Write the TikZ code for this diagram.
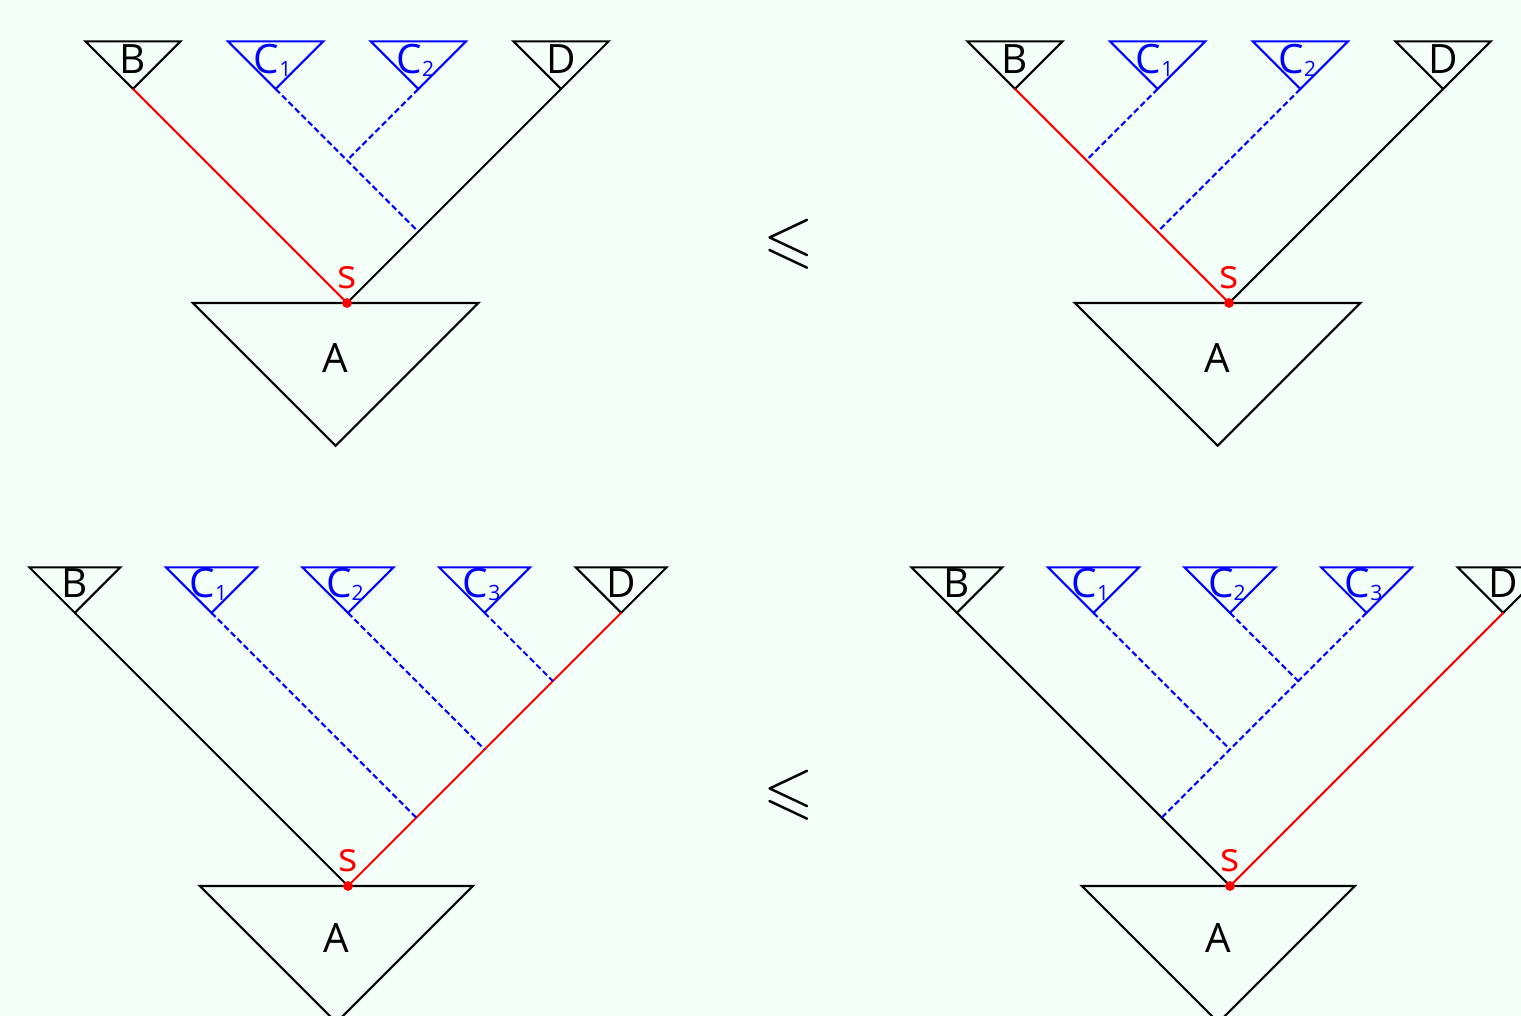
\documentclass[tikz,border=0pt]{standalone}
\usepackage{fontspec}
\setmainfont{Open Sans}
\usepackage{amssymb}
\usetikzlibrary{calc}
\definecolor{MintBg}{RGB}{245, 255, 250}
\newcommand{\leafsub}[1]{\raisebox{-0.9pt}{\fontsize{6}{7}\selectfont #1}}

\begin{document}
\begin{tikzpicture}[x=0.01cm, y=-0.01cm, line width=0.6pt,
    every node/.style={font=\fontsize{11.5}{14}\selectfont, inner sep=0pt},
    leaflabel/.style={anchor=base, yshift=0.155cm},
    rootlabel/.style={anchor=base},
    relsign/.style={font=\fontsize{18.5}{22}\selectfont},
    spine/.style={red},
    clade/.style={blue},
    cladeline/.style={blue, dash pattern=on 1.7pt off 0.9pt}]
  \useasboundingbox (0,0) rectangle (1521,1016);
  \fill[MintBg] (0,0) rectangle (1521,1016);
  \clip (0,0) rectangle (1521,1016);

  % Top left
  \begin{scope}[shift={(347,303)}, x=0.713cm, y=-0.713cm]
    \coordinate (s) at (0,0);
    \coordinate (B) at (-3,-3);
    \coordinate (C1) at (-1,-3);
    \coordinate (C2) at (1,-3);
    \coordinate (D) at (3,-3);
    \coordinate (j12) at (0,-2);
    \coordinate (jD) at (1,-1);
    \coordinate (A) at (-0.16,0);
    \draw (A) ++(-2,0) -- ++(4,0) -- ++(-2,2) -- cycle;
    \draw (B) -- ++(-2/3,-2/3) -- ++(4/3,0) -- cycle;
    \draw[clade] (C1) -- ++(-2/3,-2/3) -- ++(4/3,0) -- cycle;
    \draw[clade] (C2) -- ++(-2/3,-2/3) -- ++(4/3,0) -- cycle;
    \draw (D) -- ++(-2/3,-2/3) -- ++(4/3,0) -- cycle;
    \draw[spine] (s) -- (B);
    \draw (s) -- (D);
    \draw[cladeline] (C1) -- (j12) -- (jD);
    \draw[cladeline] (C2) -- (j12);
    \node[leaflabel] (Bl) at (B) {B};
    \node[leaflabel, blue, xshift=-0.03cm] (C1l) at (C1) {C\leafsub{1}};
    \node[leaflabel, blue, xshift=-0.03cm] (C2l) at (C2) {C\leafsub{2}};
    \node[leaflabel] (Dl) at (D) {D};
    \node[rootlabel] (Al) at ($(A)+(0,0.97)$) {A};
    \fill[red] (s) circle[radius=1.4pt];
    \node[rootlabel, red, yshift=0.14cm] (sl) at (s) {s};
  \end{scope}

  % Top right
  \begin{scope}[shift={(1229,303)}, x=0.713cm, y=-0.713cm]
    \coordinate (s) at (0,0);
    \coordinate (B) at (-3,-3);
    \coordinate (C1) at (-1,-3);
    \coordinate (C2) at (1,-3);
    \coordinate (D) at (3,-3);
    \coordinate (jB1) at (-2,-2);
    \coordinate (jB2) at (-1,-1);
    \coordinate (A) at (-0.16,0);
    \draw (A) ++(-2,0) -- ++(4,0) -- ++(-2,2) -- cycle;
    \draw (B) -- ++(-2/3,-2/3) -- ++(4/3,0) -- cycle;
    \draw[clade] (C1) -- ++(-2/3,-2/3) -- ++(4/3,0) -- cycle;
    \draw[clade] (C2) -- ++(-2/3,-2/3) -- ++(4/3,0) -- cycle;
    \draw (D) -- ++(-2/3,-2/3) -- ++(4/3,0) -- cycle;
    \draw[spine] (s) -- (B);
    \draw (s) -- (D);
    \draw[cladeline] (C1) -- (jB1);
    \draw[cladeline] (C2) -- (jB2);
    \node[leaflabel] (Bl) at (B) {B};
    \node[leaflabel, blue, xshift=-0.03cm] (C1l) at (C1) {C\leafsub{1}};
    \node[leaflabel, blue, xshift=-0.03cm] (C2l) at (C2) {C\leafsub{2}};
    \node[leaflabel] (Dl) at (D) {D};
    \node[rootlabel] (Al) at ($(A)+(0,0.97)$) {A};
    \fill[red] (s) circle[radius=1.4pt];
    \node[rootlabel, red, yshift=0.14cm] (sl) at (s) {s};
  \end{scope}

  \node[relsign] (leqtop) at (788.5,244) {$\leqslant$};

  % Bottom left
  \begin{scope}[shift={(348,886)}, x=0.6825cm, y=-0.6825cm]
    \coordinate (s) at (0,0);
    \coordinate (B) at (-4,-4);
    \coordinate (C1) at (-2,-4);
    \coordinate (C2) at (0,-4);
    \coordinate (C3) at (2,-4);
    \coordinate (D) at (4,-4);
    \coordinate (jD1) at (1,-1);
    \coordinate (jD2) at (2,-2);
    \coordinate (jD3) at (3,-3);
    \coordinate (A) at (-0.17,0);
    \draw (A) ++(-2,0) -- ++(4,0) -- ++(-2,2) -- cycle;
    \draw (B) -- ++(-2/3,-2/3) -- ++(4/3,0) -- cycle;
    \draw[clade] (C1) -- ++(-2/3,-2/3) -- ++(4/3,0) -- cycle;
    \draw[clade] (C2) -- ++(-2/3,-2/3) -- ++(4/3,0) -- cycle;
    \draw[clade] (C3) -- ++(-2/3,-2/3) -- ++(4/3,0) -- cycle;
    \draw (D) -- ++(-2/3,-2/3) -- ++(4/3,0) -- cycle;
    \draw (s) -- (B);
    \draw[spine] (s) -- (D);
    \draw[cladeline] (C1) -- (jD1);
    \draw[cladeline] (C2) -- (jD2);
    \draw[cladeline] (C3) -- (jD3);
    \node[leaflabel] (Bl) at (B) {B};
    \node[leaflabel, blue, xshift=-0.03cm] (C1l) at (C1) {C\leafsub{1}};
    \node[leaflabel, blue, xshift=-0.03cm] (C2l) at (C2) {C\leafsub{2}};
    \node[leaflabel, blue, xshift=-0.03cm] (C3l) at (C3) {C\leafsub{3}};
    \node[leaflabel] (Dl) at (D) {D};
    \node[rootlabel] (Al) at ($(A)+(0,0.97)$) {A};
    \fill[red] (s) circle[radius=1.4pt];
    \node[rootlabel, red, yshift=0.14cm] (sl) at (s) {s};
  \end{scope}

  % Bottom right
  \begin{scope}[shift={(1230,886)}, x=0.6825cm, y=-0.6825cm]
    \coordinate (s) at (0,0);
    \coordinate (B) at (-4,-4);
    \coordinate (C1) at (-2,-4);
    \coordinate (C2) at (0,-4);
    \coordinate (C3) at (2,-4);
    \coordinate (D) at (4,-4);
    \coordinate (j23) at (1,-3);
    \coordinate (j123) at (0,-2);
    \coordinate (jB) at (-1,-1);
    \coordinate (A) at (-0.17,0);
    \draw (A) ++(-2,0) -- ++(4,0) -- ++(-2,2) -- cycle;
    \draw (B) -- ++(-2/3,-2/3) -- ++(4/3,0) -- cycle;
    \draw[clade] (C1) -- ++(-2/3,-2/3) -- ++(4/3,0) -- cycle;
    \draw[clade] (C2) -- ++(-2/3,-2/3) -- ++(4/3,0) -- cycle;
    \draw[clade] (C3) -- ++(-2/3,-2/3) -- ++(4/3,0) -- cycle;
    \draw (D) -- ++(-2/3,-2/3) -- ++(4/3,0) -- cycle;
    \draw (s) -- (B);
    \draw[spine] (s) -- (D);
    \draw[cladeline] (C3) -- (j23) -- (j123) -- (jB);
    \draw[cladeline] (C2) -- (j23);
    \draw[cladeline] (C1) -- (j123);
    \node[leaflabel] (Bl) at (B) {B};
    \node[leaflabel, blue, xshift=-0.03cm] (C1l) at (C1) {C\leafsub{1}};
    \node[leaflabel, blue, xshift=-0.03cm] (C2l) at (C2) {C\leafsub{2}};
    \node[leaflabel, blue, xshift=-0.03cm] (C3l) at (C3) {C\leafsub{3}};
    \node[leaflabel] (Dl) at (D) {D};
    \node[rootlabel] (Al) at ($(A)+(0,0.97)$) {A};
    \fill[red] (s) circle[radius=1.4pt];
    \node[rootlabel, red, yshift=0.14cm] (sl) at (s) {s};
  \end{scope}

  \node[relsign] (leqbottom) at (788.5,795.5) {$\leqslant$};
\end{tikzpicture}
\end{document}
